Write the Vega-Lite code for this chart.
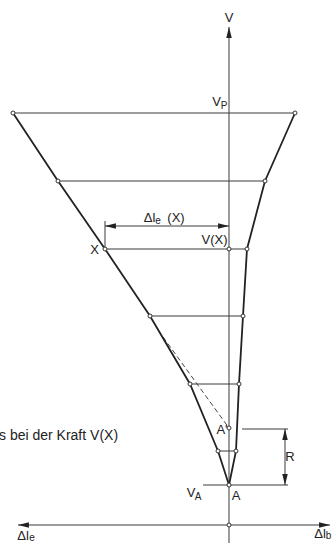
{
  "$schema": "https://vega.github.io/schema/vega-lite/v6.json",
  "width": 334,
  "height": 543,
  "autosize": "none",
  "padding": 0,
  "background": "#ffffff",
  "config": {"view": {"stroke": null}},
  "datasets": {
    "curves": [
      {"side": "left", "i": 0, "dl": -216, "V": 412},
      {"side": "left", "i": 1, "dl": -171, "V": 344},
      {"side": "left", "i": 2, "dl": -124, "V": 276},
      {"side": "left", "i": 3, "dl": -79, "V": 209},
      {"side": "left", "i": 4, "dl": -39, "V": 141},
      {"side": "left", "i": 5, "dl": -11, "V": 74},
      {"side": "left", "i": 6, "dl": 0, "V": 40},
      {"side": "right", "i": 0, "dl": 66, "V": 412},
      {"side": "right", "i": 1, "dl": 36, "V": 344},
      {"side": "right", "i": 2, "dl": 18, "V": 276},
      {"side": "right", "i": 3, "dl": 14, "V": 209},
      {"side": "right", "i": 4, "dl": 10, "V": 141},
      {"side": "right", "i": 5, "dl": 7, "V": 74},
      {"side": "right", "i": 6, "dl": 0, "V": 40}
    ],
    "rules": [
      {"x1": 0, "x2": 0, "y1": -18, "y2": 498},
      {"x1": -211, "x2": 101, "y1": 0, "y2": 0},
      {"x1": -216, "x2": 66, "y1": 412, "y2": 412},
      {"x1": -171, "x2": 36, "y1": 344, "y2": 344},
      {"x1": -124, "x2": 18, "y1": 276, "y2": 276},
      {"x1": -79, "x2": 14, "y1": 209, "y2": 209},
      {"x1": -39, "x2": 10, "y1": 141, "y2": 141},
      {"x1": -11, "x2": 7, "y1": 74, "y2": 74},
      {"x1": -124, "x2": 0, "y1": 299, "y2": 299},
      {"x1": -124, "x2": -124, "y1": 276, "y2": 304},
      {"x1": 56, "x2": 56, "y1": 40, "y2": 96},
      {"x1": 13, "x2": 59, "y1": 96, "y2": 96},
      {"x1": -26, "x2": 59, "y1": 40, "y2": 40}
    ],
    "dashed": [
      {"x1": -66, "x2": 0, "y1": 188, "y2": 97}
    ],
    "circles": [
      {"dl": -216, "V": 412}, {"dl": 66, "V": 412},
      {"dl": -171, "V": 344}, {"dl": 36, "V": 344},
      {"dl": -124, "V": 276}, {"dl": 18, "V": 276}, {"dl": 0, "V": 276},
      {"dl": -79, "V": 209}, {"dl": 14, "V": 209},
      {"dl": -39, "V": 141}, {"dl": 10, "V": 141},
      {"dl": -11, "V": 74}, {"dl": 7, "V": 74},
      {"dl": 0, "V": 97}, {"dl": 0, "V": 40}, {"dl": 0, "V": 0}
    ],
    "arrows": [
      {"dl": 0, "V": 498, "dir": "up"},
      {"dl": -211, "V": 0, "dir": "left"},
      {"dl": 101, "V": 0, "dir": "right"},
      {"dl": -124, "V": 299, "dir": "left"},
      {"dl": 0, "V": 299, "dir": "right"},
      {"dl": 56, "V": 96, "dir": "up"},
      {"dl": 56, "V": 40, "dir": "down"}
    ],
    "labels": [
      {"dl": 0, "V": 507, "t": "V"},
      {"dl": -12.5, "V": 423, "t": "V"},
      {"dl": -79.5, "V": 307, "t": "Δl"},
      {"dl": -53, "V": 307, "t": "(X)"},
      {"dl": -14.5, "V": 285, "t": "V(X)"},
      {"dl": -134.5, "V": 275, "t": "X"},
      {"dl": -7, "V": 95, "t": "A'"},
      {"dl": 7, "V": 29, "t": "A"},
      {"dl": -38, "V": 32, "t": "V"},
      {"dl": 61, "V": 68, "t": "R"},
      {"dl": -206, "V": -11, "t": "Δl"},
      {"dl": 91, "V": -9, "t": "Δl"}
    ],
    "subs": [
      {"dl": -5, "V": 419, "t": "P"},
      {"dl": -71, "V": 304, "t": "e"},
      {"dl": -31, "V": 28, "t": "A"},
      {"dl": -197, "V": -13, "t": "e"},
      {"dl": 99.5, "V": -11, "t": "b"}
    ],
    "caption": [
      {"dl": -230, "V": 89, "t": "s bei der Kraft V(X)"}
    ]
  },
  "layer": [
    {
      "data": {"name": "rules"},
      "mark": {"type": "rule", "stroke": "#3a3a3a", "strokeWidth": 1},
      "encoding": {
        "x": {"field": "x1", "type": "quantitative", "scale": {"domain": [-229, 105], "nice": false, "zero": false}, "axis": null},
        "x2": {"field": "x2"},
        "y": {"field": "y1", "type": "quantitative", "scale": {"domain": [-18, 525], "nice": false, "zero": false}, "axis": null},
        "y2": {"field": "y2"}
      }
    },
    {
      "data": {"name": "dashed"},
      "mark": {"type": "rule", "stroke": "#444", "strokeWidth": 1, "strokeDash": [5, 3]},
      "encoding": {
        "x": {"field": "x1", "type": "quantitative"},
        "x2": {"field": "x2"},
        "y": {"field": "y1", "type": "quantitative"},
        "y2": {"field": "y2"}
      }
    },
    {
      "data": {"name": "curves"},
      "mark": {"type": "line", "stroke": "#222", "strokeWidth": 1.8},
      "encoding": {
        "x": {"field": "dl", "type": "quantitative"},
        "y": {"field": "V", "type": "quantitative"},
        "detail": {"field": "side"},
        "order": {"field": "i"}
      }
    },
    {
      "data": {"name": "circles"},
      "mark": {"type": "point", "filled": true, "fill": "#ffffff", "stroke": "#333", "strokeWidth": 1, "size": 16, "opacity": 1},
      "encoding": {
        "x": {"field": "dl", "type": "quantitative"},
        "y": {"field": "V", "type": "quantitative"}
      }
    },
    {
      "data": {"name": "arrows"},
      "mark": {"type": "point", "filled": true, "fill": "#222", "strokeWidth": 0, "size": 30, "opacity": 1},
      "encoding": {
        "x": {"field": "dl", "type": "quantitative"},
        "y": {"field": "V", "type": "quantitative"},
        "shape": {
          "field": "dir",
          "type": "nominal",
          "legend": null,
          "scale": {
            "domain": ["up", "down", "left", "right"],
            "range": ["M0,0L-1,4L1,4Z", "M0,0L-1,-4L1,-4Z", "M0,0L4,-1L4,1Z", "M0,0L-4,-1L-4,1Z"]
          }
        }
      }
    },
    {
      "data": {"name": "labels"},
      "mark": {"type": "text", "font": "Liberation Sans", "fontSize": 13, "fill": "#222", "align": "center", "baseline": "middle"},
      "encoding": {
        "x": {"field": "dl", "type": "quantitative"},
        "y": {"field": "V", "type": "quantitative"},
        "text": {"field": "t"}
      }
    },
    {
      "data": {"name": "subs"},
      "mark": {"type": "text", "font": "Liberation Sans", "fontSize": 10, "fill": "#222", "align": "center", "baseline": "middle"},
      "encoding": {
        "x": {"field": "dl", "type": "quantitative"},
        "y": {"field": "V", "type": "quantitative"},
        "text": {"field": "t"}
      }
    },
    {
      "data": {"name": "caption"},
      "mark": {"type": "text", "font": "Liberation Sans", "fontSize": 14, "fill": "#222", "align": "left", "baseline": "middle"},
      "encoding": {
        "x": {"field": "dl", "type": "quantitative"},
        "y": {"field": "V", "type": "quantitative"},
        "text": {"field": "t"}
      }
    }
  ]
}
